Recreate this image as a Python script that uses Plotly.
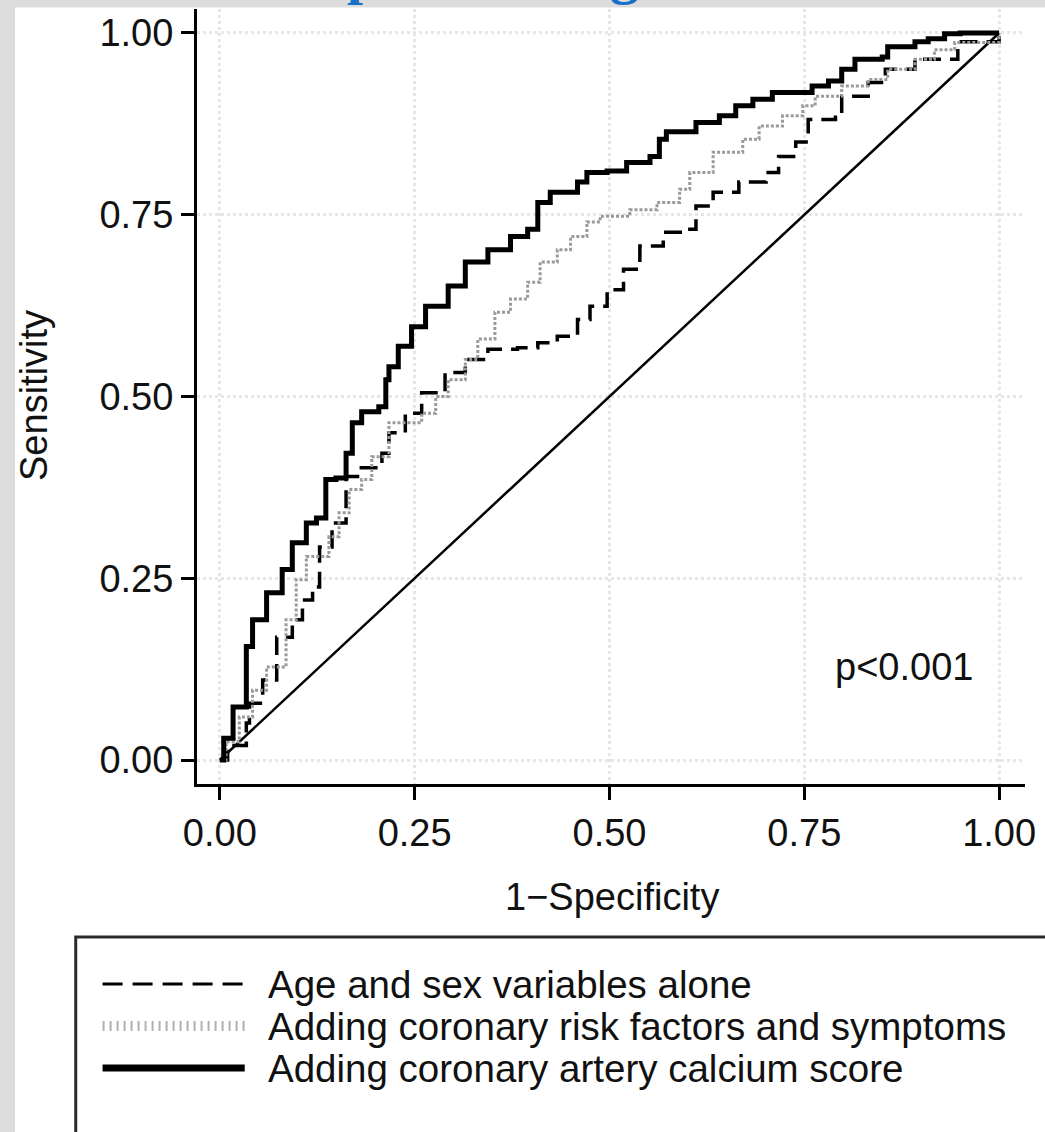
import plotly.graph_objects as go

# ---------------- data ----------------
age_sex_x = [0, 0.01, 0.034, 0.038, 0.055, 0.073, 0.093, 0.106, 0.119, 0.128, 0.144, 0.162, 0.179, 0.208,
             0.217, 0.238, 0.259, 0.289, 0.315, 0.344, 0.382, 0.408, 0.433, 0.459, 0.475, 0.497, 0.518,
             0.539, 0.569, 0.595, 0.611, 0.633, 0.666, 0.701, 0.717, 0.739, 0.755, 0.79, 0.798, 0.832,
             0.854, 0.892, 0.943, 0.947, 1.0]
age_sex_y = [0, 0.02, 0.051, 0.078, 0.11, 0.169, 0.193, 0.22, 0.238, 0.293, 0.326, 0.39, 0.402, 0.422,
             0.45, 0.477, 0.505, 0.533, 0.551, 0.565, 0.567, 0.574, 0.583, 0.606, 0.624, 0.647, 0.675,
             0.707, 0.726, 0.73, 0.762, 0.781, 0.795, 0.808, 0.83, 0.85, 0.881, 0.884, 0.913, 0.932,
             0.95, 0.964, 0.964, 0.988, 1.0]

risk_x = [0, 0.008, 0.025, 0.042, 0.06, 0.085, 0.098, 0.111, 0.14, 0.153, 0.166, 0.182, 0.195, 0.217,
          0.259, 0.277, 0.293, 0.315, 0.331, 0.353, 0.373, 0.395, 0.411, 0.433, 0.45, 0.471, 0.488,
          0.526, 0.561, 0.59, 0.603, 0.633, 0.671, 0.692, 0.722, 0.748, 0.764, 0.798, 0.832, 0.857,
          0.892, 0.917, 0.943, 1.0]
risk_y = [0, 0.025, 0.059, 0.096, 0.128, 0.193, 0.248, 0.28, 0.307, 0.34, 0.372, 0.386, 0.417, 0.464,
          0.477, 0.5, 0.523, 0.551, 0.579, 0.616, 0.634, 0.657, 0.685, 0.702, 0.72, 0.74, 0.748,
          0.757, 0.767, 0.785, 0.808, 0.836, 0.854, 0.872, 0.886, 0.90, 0.913, 0.927, 0.936, 0.95,
          0.964, 0.977, 0.987, 1.0]

cac_x = [0, 0.005, 0.017, 0.034, 0.042, 0.06, 0.08, 0.093, 0.111, 0.124, 0.136, 0.149, 0.162, 0.17,
         0.182, 0.204, 0.213, 0.217, 0.229, 0.246, 0.264, 0.293, 0.315, 0.344, 0.373, 0.395, 0.408,
         0.424, 0.459, 0.471, 0.497, 0.522, 0.552, 0.564, 0.573, 0.611, 0.641, 0.662, 0.684, 0.709,
         0.76, 0.781, 0.798, 0.815, 0.85, 0.857, 0.892, 0.909, 0.93, 0.95, 1.0]
cac_y = [0, 0.03, 0.073, 0.156, 0.193, 0.23, 0.262, 0.299, 0.326, 0.333, 0.386, 0.388, 0.422, 0.464,
         0.479, 0.486, 0.523, 0.541, 0.569, 0.596, 0.624, 0.652, 0.685, 0.702, 0.72, 0.73, 0.767,
         0.781, 0.795, 0.808, 0.81, 0.822, 0.83, 0.854, 0.864, 0.877, 0.886, 0.90, 0.909, 0.918,
         0.927, 0.934, 0.95, 0.964, 0.967, 0.981, 0.988, 0.992, 0.999, 1.0, 1.0]

ref_x = [0, 1]
ref_y = [0, 1]

tick_vals = [0, 0.25, 0.5, 0.75, 1.0]
tick_text = ["0.00", "0.25", "0.50", "0.75", "1.00"]

series_names = ["Age and sex variables alone",
                "Adding coronary risk factors and symptoms",
                "Adding coronary artery calcium score"]

assert len(age_sex_x) == len(age_sex_y)
assert len(risk_x) == len(risk_y)
assert len(cac_x) == len(cac_y)

# ---------------- layout geometry (pixels) ----------------
W, H = 1045, 1132
L, R, T, B = 197, 15, 9, 348
PW, PH = W - L - R, H - T - B


def px(xp):
    return (xp - L) / PW


def py(yp):
    return (H - B - yp) / PH


FONT = "Liberation Sans, Arial, sans-serif"
FS = 38
TXT = "#111111"

fig = go.Figure()

fig.add_trace(go.Scatter(x=ref_x, y=ref_y, mode="lines",
                         line=dict(color="black", width=2.5), showlegend=False, hoverinfo="skip"))
fig.add_trace(go.Scatter(x=age_sex_x, y=age_sex_y, mode="lines", name=series_names[0],
                         line=dict(color="black", width=3.5, dash="18px,9px", shape="hv"),
                         showlegend=False))
fig.add_trace(go.Scatter(x=risk_x, y=risk_y, mode="lines", name=series_names[1],
                         line=dict(color="#9a9a9a", width=3, dash="3px,2px", shape="hv"),
                         showlegend=False))
fig.add_trace(go.Scatter(x=cac_x, y=cac_y, mode="lines", name=series_names[2],
                         line=dict(color="black", width=5, shape="hv"),
                         showlegend=False))

shapes = []
# white page area over the grey backdrop
shapes.append(dict(type="rect", xref="paper", yref="paper", layer="below",
                   x0=px(14), x1=px(1100), y0=py(1200), y1=py(7.5),
                   fillcolor="white", line=dict(width=0)))
# legend box
shapes.append(dict(type="rect", xref="paper", yref="paper",
                   x0=px(75), x1=px(1070), y0=py(1160), y1=py(937),
                   fillcolor="white", line=dict(color="#2a2a2a", width=3)))
# legend keys
ky = [984, 1026, 1068]
shapes.append(dict(type="line", xref="paper", yref="paper", x0=px(102), x1=px(245), y0=py(ky[0]), y1=py(ky[0]),
                   line=dict(color="black", width=3, dash="20px,10px")))
shapes.append(dict(type="line", xref="paper", yref="paper", x0=px(102), x1=px(245), y0=py(ky[1]), y1=py(ky[1]),
                   line=dict(color="#b0b0b0", width=10, dash="2px,5px")))
shapes.append(dict(type="line", xref="paper", yref="paper", x0=px(102), x1=px(245), y0=py(ky[2]), y1=py(ky[2]),
                   line=dict(color="black", width=7)))

annotations = []
for name, yy in zip(series_names, ky):
    annotations.append(dict(text=name, xref="paper", yref="paper", x=px(266), y=py(yy),
                            xanchor="left", yanchor="middle", showarrow=False,
                            font=dict(family=FONT, size=FS + 0.5, color=TXT)))
annotations.append(dict(text="Sensitivity", xref="paper", yref="paper", x=px(33), y=py(395),
                        xanchor="center", yanchor="middle", textangle=-90, showarrow=False,
                        font=dict(family=FONT, size=FS, color=TXT)))
annotations.append(dict(text="1\u2212Specificity", xref="paper", yref="paper", x=px(615), y=py(897),
                        xanchor="center", yanchor="middle", showarrow=False,
                        font=dict(family=FONT, size=FS, color=TXT)))
annotations.append(dict(text="p<0.001", xref="x", yref="y", x=0.878, y=0.128,
                        xanchor="center", yanchor="middle", showarrow=False,
                        font=dict(family=FONT, size=FS, color=TXT)))
# clipped fragments of the blue heading above the figure
annotations.append(dict(text="<b>p</b>", xref="paper", yref="paper", x=px(346), y=py(8),
                        xanchor="left", yanchor="bottom", showarrow=False,
                        font=dict(family="Liberation Serif, serif", size=58, color="#1a6fc6")))
annotations.append(dict(text="<b>g</b>", xref="paper", yref="paper", x=px(627), y=py(8),
                        xanchor="center", yanchor="bottom", showarrow=False,
                        font=dict(family="Liberation Serif, serif", size=58, color="#1a6fc6")))

axis_common = dict(
    tickvals=tick_vals, ticktext=tick_text,
    showline=True, linecolor="black", linewidth=3,
    ticks="outside", ticklen=13, tickwidth=2.5, tickcolor="black",
    showgrid=True, gridcolor="#e6e6e6", gridwidth=2.5, griddash="dot",
    zeroline=False,
    tickfont=dict(family=FONT, size=FS, color=TXT),
    fixedrange=True,
)

fig.update_layout(
    width=W, height=H,
    margin=dict(l=L, r=R, t=T, b=B, pad=0),
    paper_bgcolor="#dcdcdc",
    plot_bgcolor="white",
    xaxis=dict(range=[-0.0293, 1.0332], **axis_common),
    yaxis=dict(range=[-0.033, 1.033], **axis_common),
    shapes=shapes,
    annotations=annotations,
    showlegend=False,
)

fig.write_html("out.html")
